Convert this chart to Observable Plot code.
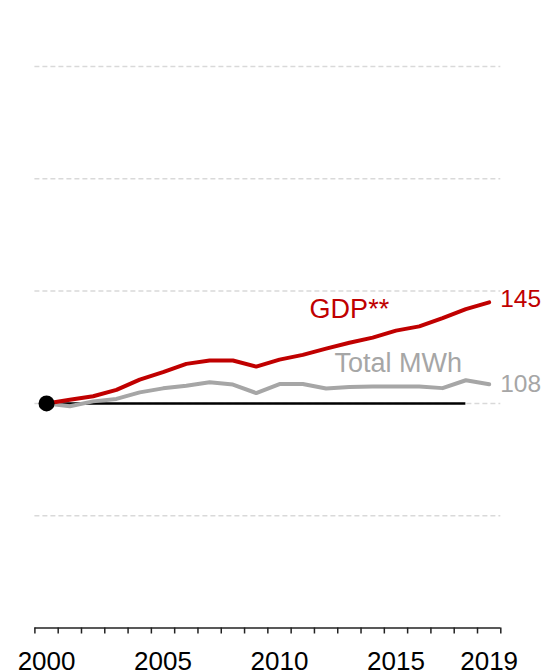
<!DOCTYPE html>
<html>
<head>
<meta charset="utf-8">
<script src="https://cdn.jsdelivr.net/npm/d3@7"></script>
<script src="https://cdn.jsdelivr.net/npm/@observablehq/plot@0.6"></script>
<style>
  html, body { margin: 0; padding: 0; background: #fff; }
  #chart svg { display: block; }
</style>
</head>
<body>
<div id="chart"></div>
<script>
// ---- data ----
const years = [2000, 2001, 2002, 2003, 2004, 2005, 2006, 2007, 2008, 2009,
               2010, 2011, 2012, 2013, 2014, 2015, 2016, 2017, 2018, 2019];
const gdp = [100, 101.6, 103.2, 106, 110.6, 113.9, 117.6, 119.1, 119.1, 116.4,
             119.5, 121.6, 124.4, 127, 129.3, 132.4, 134.3, 138, 142, 145];
const totalMWh = [100, 98.7, 100.9, 102, 104.9, 106.7, 107.9, 109.4, 108.4, 104.6,
                  108.6, 108.6, 106.6, 107.3, 107.5, 107.5, 107.5, 106.8, 110.3, 108.5];
const gridValues = [50, 100, 150, 200, 250];
const tickLabelYears = [2000, 2005, 2010, 2015, 2019];
const seriesNames = ["GDP**", "Total MWh"];
const seriesLabelAt = [[2013, 142], [2015.1, 117.8]]; // annotation anchor (year, index)
const endLabels = ["145", "108"];
const baselineSpan = [2000, 2018];

const red = "#C00000";
const gray = "#A6A6A6";
const font = "'Liberation Sans', Arial, sans-serif";

const gdpData = years.map((y, i) => ({year: y, value: gdp[i]}));
const mwhData = years.map((y, i) => ({year: y, value: totalMWh[i]}));
const bandEdges = d3.range(years[0] - 0.5, years[years.length - 1] + 1, 1);
const last = years.length - 1;

const chart = Plot.plot({
  width: 544,
  height: 670,
  marginLeft: 34.4,
  marginRight: 43.7,
  marginTop: 66,
  marginBottom: 42.5,
  style: {fontFamily: font, background: "#fff", overflow: "visible"},
  x: {domain: [years[0] - 0.5, years[last] + 0.5], label: null},
  y: {domain: [0, 250], axis: null},
  marks: [
    Plot.ruleY(gridValues, {stroke: "#D9D9D9", strokeWidth: 1.5, strokeDasharray: "5,3"}),
    Plot.ruleY([100], {x1: baselineSpan[0], x2: baselineSpan[1], stroke: "#000", strokeWidth: 2.5}),
    Plot.line(mwhData, {x: "year", y: "value", stroke: gray, strokeWidth: 4, strokeLinejoin: "round"}),
    Plot.line(gdpData, {x: "year", y: "value", stroke: red, strokeWidth: 4, strokeLinejoin: "round"}),
    Plot.dot([gdpData[0]], {x: "year", y: "value", r: 8, fill: "#000"}),
    // series names
    Plot.text([seriesNames[0]], {x: seriesLabelAt[0][0], y: seriesLabelAt[0][1], text: d => d,
      fill: red, fontSize: 27, textAnchor: "middle", lineAnchor: "middle"}),
    Plot.text([seriesNames[1]], {x: seriesLabelAt[1][0], y: seriesLabelAt[1][1], text: d => d,
      fill: gray, fontSize: 27, textAnchor: "middle", lineAnchor: "middle"}),
    // end value labels
    Plot.text([gdpData[last]], {x: "year", y: "value", text: () => endLabels[0],
      fill: red, fontSize: 24.5, textAnchor: "start", dx: 11, dy: -3, lineAnchor: "middle"}),
    Plot.text([mwhData[last]], {x: "year", y: "value", text: () => endLabels[1],
      fill: gray, fontSize: 24.5, textAnchor: "start", dx: 11, dy: 0, lineAnchor: "middle"}),
    // x axis
    Plot.ruleY([0], {stroke: "#222", strokeWidth: 1.5}),
    Plot.axisX({ticks: bandEdges, tickFormat: () => "", tickSize: 6, stroke: "#222", strokeWidth: 1.5, label: null}),
    Plot.axisX({ticks: tickLabelYears, tickFormat: d => String(d), tickSize: 0, tickPadding: 24,
      fontSize: 26, fill: "#000", label: null})
  ]
});
document.getElementById("chart").appendChild(chart);
</script>
</body>
</html>
